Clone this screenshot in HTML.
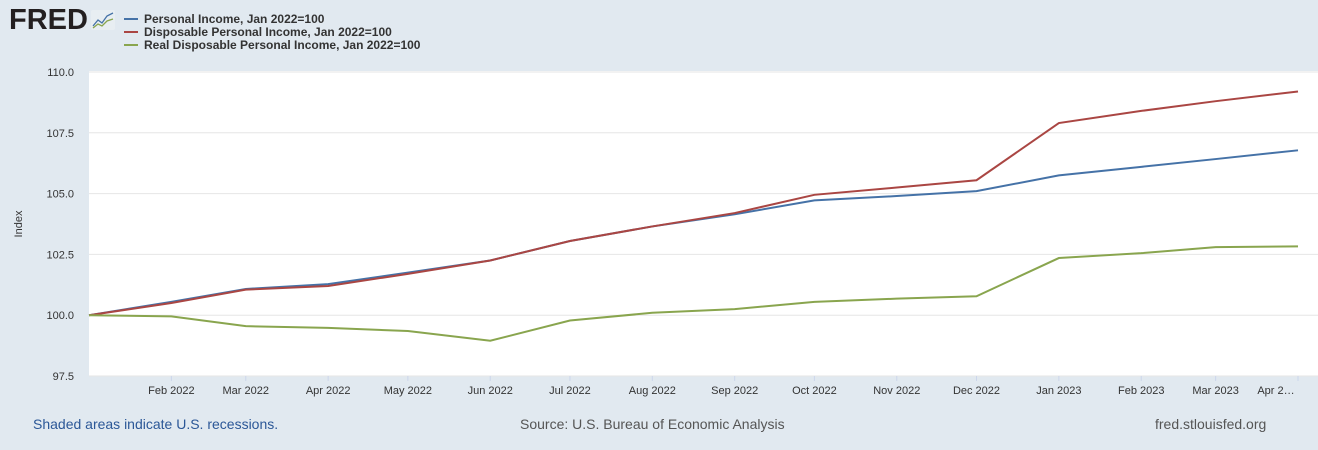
<!DOCTYPE html>
<html><head><meta charset="utf-8"><style>
body{margin:0;width:1318px;height:450px;background:#e1e9f0;font-family:"Liberation Sans",sans-serif;overflow:hidden;position:relative}
.t{position:absolute;white-space:nowrap}
</style></head><body>
<div class="t" style="left:9px;top:4px;font-size:29px;font-weight:900;color:#231f20;letter-spacing:0px">FRED</div>
<svg style="position:absolute;left:91px;top:10px" width="24" height="20"><rect width="24" height="20" rx="2" fill="#e8eef2"/><polyline points="2,16 7,10 11,13 16,6 22,3" fill="none" stroke="#4572a7" stroke-width="1.3"/><polyline points="2,18 7,14 11,16 16,11 22,9" fill="none" stroke="#89a54e" stroke-width="1.3"/></svg>
<svg id="c" width="1318" height="450" style="position:absolute;left:0;top:0"></svg>
<div class="t" style="left:33px;top:416px;font-size:14px;color:#2b5797">Shaded areas indicate U.S. recessions.</div>
<div class="t" style="left:520px;top:416px;font-size:14px;color:#555">Source: U.S. Bureau of Economic Analysis</div>
<div class="t" style="left:1155px;top:416px;font-size:14px;color:#555">fred.stlouisfed.org</div>
<script>
const dates=["2022-01-01","2022-02-01","2022-03-01","2022-04-01","2022-05-01","2022-06-01","2022-07-01","2022-08-01","2022-09-01","2022-10-01","2022-11-01","2022-12-01","2023-01-01","2023-02-01","2023-03-01","2023-04-01"];
const personalIncome=[100,100.55,101.08,101.28,101.75,102.25,103.05,103.65,104.15,104.72,104.9,105.1,105.75,106.1,106.42,106.78];
const disposableIncome=[100,100.5,101.05,101.2,101.7,102.25,103.05,103.65,104.2,104.95,105.25,105.55,107.9,108.4,108.8,109.2];
const realDisposable=[100,99.95,99.55,99.48,99.35,98.95,99.78,100.1,100.25,100.55,100.68,100.78,102.35,102.55,102.8,102.83];
const yTicks=[97.5,100,102.5,105,107.5,110];
const xTickLabels=["Feb 2022","Mar 2022","Apr 2022","May 2022","Jun 2022","Jul 2022","Aug 2022","Sep 2022","Oct 2022","Nov 2022","Dec 2022","Jan 2023","Feb 2023","Mar 2023","Apr 2…"];
const seriesNames=["Personal Income, Jan 2022=100","Disposable Personal Income, Jan 2022=100","Real Disposable Personal Income, Jan 2022=100"];
const colors=["#4572a7","#aa4643","#89a54e"];
const L=89,R=1298,T=72,B=376;
const t0=Date.parse(dates[0]),t1=Date.parse(dates[dates.length-1]);
const x=d=>L+(Date.parse(d)-t0)/(t1-t0)*(R-L);
const y=v=>B-(v-97.5)/(110-97.5)*(B-T);
const svg=document.getElementById('c');const NS="http://www.w3.org/2000/svg";
function mk(tag,a,txt){const e=document.createElementNS(NS,tag);for(const k in a)e.setAttribute(k,a[k]);if(txt!=null)e.textContent=txt;svg.appendChild(e);return e;}
let e=mk('rect',{x:L,y:T-1,width:R-L+20,height:B-T+1,fill:'#fff'});


yTicks.forEach(v=>{
 let g=mk('line',{x1:L,x2:1318,y1:y(v),y2:y(v),stroke:'#e6e6e6'});
 
 
 let l=mk('text',{x:74,y:y(v)+4,'text-anchor':'end','font-size':11,fill:'#333','font-family':'Liberation Sans'},v.toFixed(1));
 
 
});
let yt=mk('text',{transform:'translate(22,224) rotate(-90)','text-anchor':'middle','font-size':11,fill:'#333','font-family':'Liberation Sans'},'Index');


xTickLabels.forEach((s,i)=>{
 const xx=x(dates[i+1]);
 let tk=mk('line',{x1:xx,x2:xx,y1:B,y2:B+5,stroke:'#ccd6eb'});
 
 
 let l=mk('text',{x:i==xTickLabels.length-1?xx-22:xx,y:B+18,'text-anchor':'middle','font-size':11,fill:'#333','font-family':'Liberation Sans'},s);
 
 
});
[personalIncome,disposableIncome,realDisposable].forEach((arr,k)=>{
 let p=mk('polyline',{points:arr.map((v,i)=>x(dates[i])+','+y(v)).join(' '),fill:'none',stroke:colors[k],'stroke-width':2});
 
 
 let ll=mk('line',{x1:124,x2:138,y1:19+k*13,y2:19+k*13,stroke:colors[k],'stroke-width':2});
 
 
 let lt=mk('text',{x:144,y:23+k*13,'font-size':12,'font-weight':'bold',fill:'#333','font-family':'Liberation Sans'},seriesNames[k]);
 
 
});
</script>
</body></html>
